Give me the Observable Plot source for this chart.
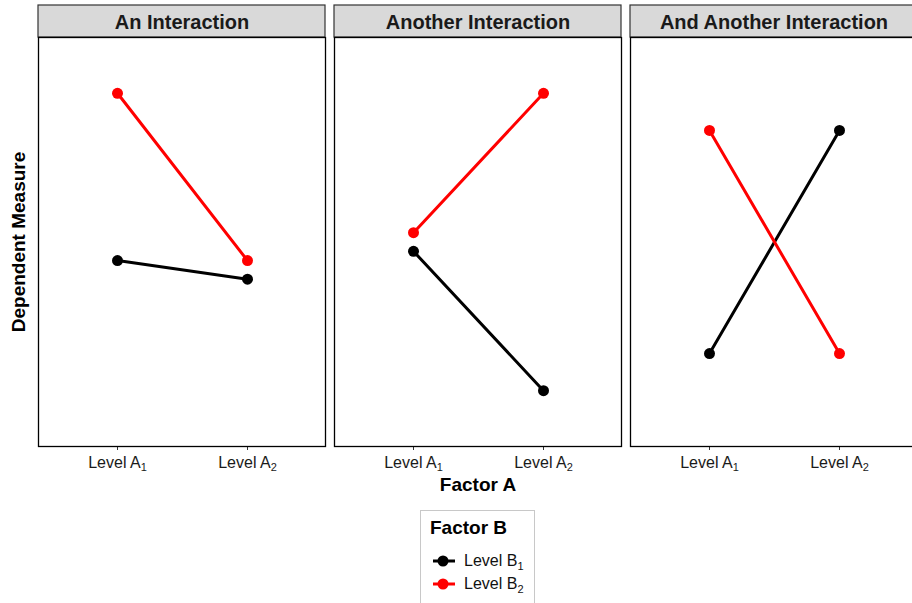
<!DOCTYPE html>
<html><head><meta charset="utf-8">
<script src="https://cdn.jsdelivr.net/npm/d3@7"></script>
<script src="https://cdn.jsdelivr.net/npm/@observablehq/plot@0.6"></script>
<style>
html,body{margin:0;padding:0;overflow:hidden;background:#fff;font-family:"Liberation Sans",Arial,sans-serif;}
#wrap{position:relative;width:912px;height:603px;overflow:hidden;}
#chart svg{max-width:none !important;}
#legend{position:absolute;left:420px;top:510px;width:115px;height:110px;border:1px solid #c8c8c8;box-sizing:border-box;background:#fff;}
#legend .title{position:absolute;left:9px;top:6px;font-size:19px;font-weight:bold;color:#000;}
#legend .item{position:absolute;left:10px;height:20px;display:flex;align-items:center;font-size:16px;color:#111;white-space:nowrap;}
#legend .item svg{margin-right:7px;flex:none;}
#legend sub{font-size:11px;vertical-align:-4px;line-height:0;}
</style></head><body>
<div id="wrap"><div id="chart"></div><div id="legend"></div></div>
<script>
const panels = ["An Interaction", "Another Interaction", "And Another Interaction"];
const levelsA = ["A1", "A2"];
const levelsB = ["B1", "B2"];
const b1Values = [[10, 9], [10.5, 3], [5, 17]];
const b2Values = [[19, 10], [11.5, 19], [17, 5]];
const seriesColors = ["black", "red"];
const axisTitleX = "Factor A";
const axisTitleY = "Dependent Measure";
const legendTitle = "Factor B";

const rows = [];
[b1Values, b2Values].forEach((vals, bi) => {
  panels.forEach((p, pi) => {
    levelsA.forEach((a, ai) => rows.push({panel: p, A: a, B: levelsB[bi], value: vals[pi][ai]}));
  });
});

const plot = Plot.plot({
  width: 918, height: 500,
  marginLeft: 38, marginRight: 1, marginTop: 37, marginBottom: 54,
  style: {fontFamily: "Liberation Sans, Arial, sans-serif", background: "white", overflow: "visible", maxWidth: "none"},
  fx: {domain: panels, range: [38, 917], round: false, paddingInner: 9 / 296, paddingOuter: 0, label: null},
  x: {type: "point", domain: levelsA, padding: 0.6, label: null},
  y: {domain: [0, 22], axis: null},
  color: {domain: levelsB, range: seriesColors},
  marks: [
    Plot.axisFx({anchor: "top", tickSize: 0, tickPadding: 9, fontSize: 20, fontWeight: "bold", fill: "#1a1a1a", label: null}),
    Plot.axisX({tickSize: 4, tickPadding: 6, fontSize: 16, fill: "#1a1a1a", stroke: "#333", label: null, tickFormat: d => "Level " + d}),
    Plot.line(rows, {fx: "panel", x: "A", y: "value", z: "B", stroke: "B", strokeWidth: 3}),
    Plot.dot(rows, {fx: "panel", x: "A", y: "value", fill: "B", r: 5.5}),
    Plot.frame({stroke: "black", strokeWidth: 1.3}),
    Plot.text([axisTitleY], {fx: () => panels[0], text: d => d, frameAnchor: "left", rotate: -90, dx: -20, textAnchor: "middle", lineAnchor: "middle", fontSize: 19, fontWeight: "bold", fill: "#000"}),
    Plot.text([axisTitleX], {fx: () => panels[1], text: d => d, frameAnchor: "bottom", dy: 38, lineAnchor: "middle", fontSize: 19, fontWeight: "bold", fill: "#000"})
  ]
});

// strip backgrounds
const fx = plot.scale("fx");
const svg = d3.select(plot.tagName === "svg" ? plot : plot.querySelector("svg"));
svg.style("max-width", "none");
const strips = svg.insert("g", ":first-child");
panels.forEach(p => {
  strips.append("rect")
    .attr("x", fx.apply(p)).attr("y", 5)
    .attr("width", fx.bandwidth).attr("height", 32)
    .attr("fill", "#d9d9d9").attr("stroke", "#333").attr("stroke-width", 1.2);
});

// subscripts on tick labels
svg.selectAll("text").each(function() {
  const t = this.textContent;
  const m = /^Level ([A-Z])(\d)$/.exec(t);
  if (m && this.childElementCount === 0) {
    this.textContent = "";
    d3.select(this).append("tspan").text("Level " + m[1]);
    d3.select(this).append("tspan").attr("font-size", 11).attr("dy", "0.3em").text(m[2]);
  }
});

document.getElementById("chart").appendChild(plot);

// legend
const lg = document.getElementById("legend");
lg.innerHTML = `<div class="title">${legendTitle}</div>` + levelsB.map((b, i) =>
  `<div class="item" style="top:${40 + i * 23}px"><svg width="26" height="12"><line x1="2" x2="24" y1="6" y2="6" stroke="${seriesColors[i]}" stroke-width="3"/><circle cx="12" cy="6" r="5.5" fill="${seriesColors[i]}"/></svg><span>Level ${b[0]}<sub>${b.slice(1)}</sub></span></div>`
).join("");
</script>
</body></html>
